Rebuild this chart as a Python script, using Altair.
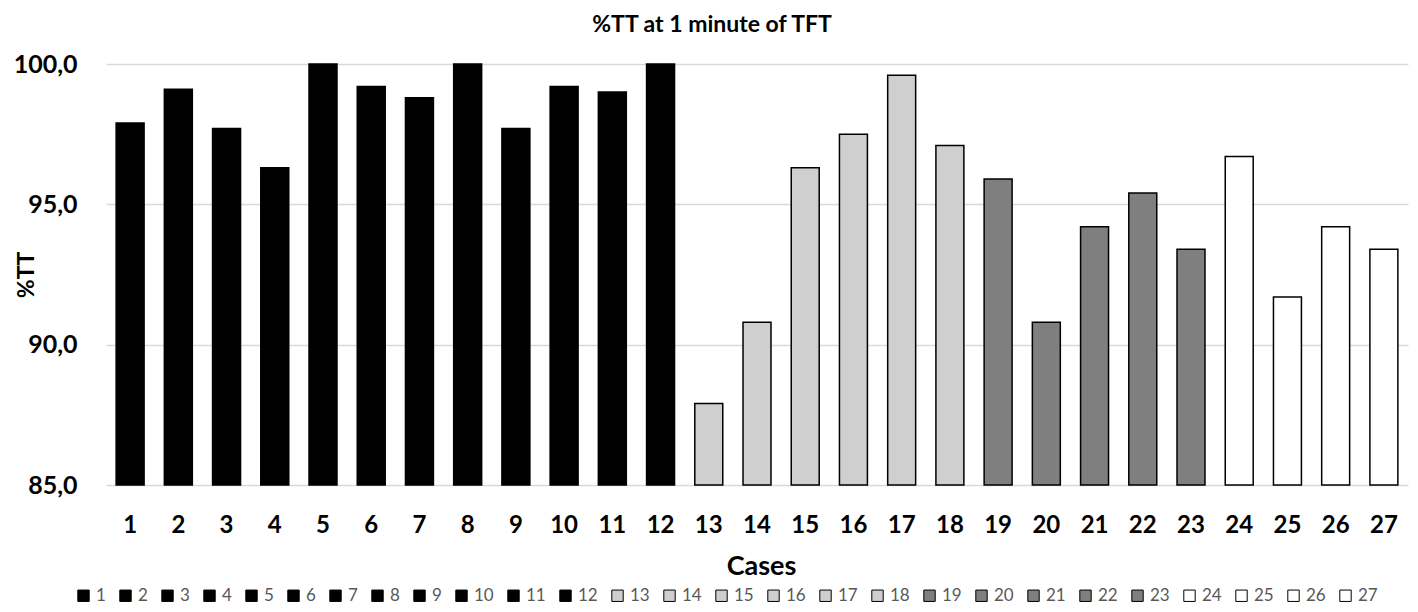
import altair as alt
import pandas as pd

cases = ["1", "2", "3", "4", "5", "6", "7", "8", "9", "10", "11", "12", "13", "14",
         "15", "16", "17", "18", "19", "20", "21", "22", "23", "24", "25", "26", "27"]
tt_values = [97.9, 99.1, 97.7, 96.3, 100.0, 99.2, 98.8, 100.0, 97.7, 99.2, 99.0, 100.0,
             87.9, 90.8, 96.3, 97.5, 99.6, 97.1, 95.9, 90.8, 94.2, 95.4, 93.4,
             96.7, 91.7, 94.2, 93.4]
groups = ["A"] * 12 + ["B"] * 6 + ["C"] * 5 + ["D"] * 4
group_fill = {"A": "#000000", "B": "#cfcfcf", "C": "#7f7f7f", "D": "#ffffff"}
fills = [group_fill[g] for g in groups]

df = pd.DataFrame({"Case": cases, "TT": tt_values})

FONT = "Lato"
W, H = 1302, 421

chart = alt.Chart(df).mark_bar(stroke="#000000", strokeWidth=1.5).encode(
    x=alt.X(
        "Case:N", sort=cases,
        scale=alt.Scale(paddingInner=0.42, paddingOuter=0.21),
        axis=alt.Axis(
            title="Cases", labelAngle=0, ticks=False, domain=False,
            labelFont=FONT, labelFontWeight="bold", labelFontSize=24, labelColor="#000000",
            labelPadding=28,
            titleFont=FONT, titleFontWeight="bold", titleFontSize=27, titleColor="#000000",
            titleX=655, titleY=81, titleAlign="center", titleBaseline="middle",
        ),
    ),
    y=alt.Y(
        "TT:Q",
        scale=alt.Scale(domain=[85, 100], zero=False, nice=False),
        axis=alt.Axis(
            values=[85, 90, 95, 100],
            labelExpr="replace(format(datum.value, '.1f'), '.', ',')",
            ticks=False, domain=False,
            labelFont=FONT, labelFontWeight="bold", labelFontSize=25, labelColor="#000000",
            labelPadding=29,
            gridColor="#d9d9d9", gridWidth=1.5,
            title="%TT", titleFont=FONT, titleFontWeight="bold", titleFontSize=23,
            titleColor="#000000", titleAngle=270,
            titleX=-80, titleY=H / 2, titleAlign="center", titleBaseline="middle",
        ),
    ),
    y2=alt.datum(85),
    color=alt.Color(
        "Case:N", sort=cases,
        scale=alt.Scale(domain=cases, range=fills),
        legend=alt.Legend(
            title=None, orient="none", legendX=-31, legendY=523,
            direction="horizontal", columns=27,
            symbolType="square", symbolSize=130,
            symbolStrokeColor="#000000", symbolStrokeWidth=1,
            labelFont=FONT, labelFontSize=17, labelColor="#595959",
            labelOffset=4, columnPadding=11,
        ),
    ),
).properties(
    width=W, height=H,
    title=alt.Title(
        "%TT at 1 minute of TFT", font=FONT, fontSize=23, fontWeight="bold",
        color="#000000", anchor="middle", dx=-45, dy=14, offset=18, baseline="middle",
    ),
    autosize=alt.AutoSizeParams(type="none"),
    padding={"left": 98, "top": 56, "right": 2, "bottom": 119},
    background="#ffffff",
).configure_view(stroke=None)

chart.save("out.html", embed_options={"renderer": "svg", "actions": False})
